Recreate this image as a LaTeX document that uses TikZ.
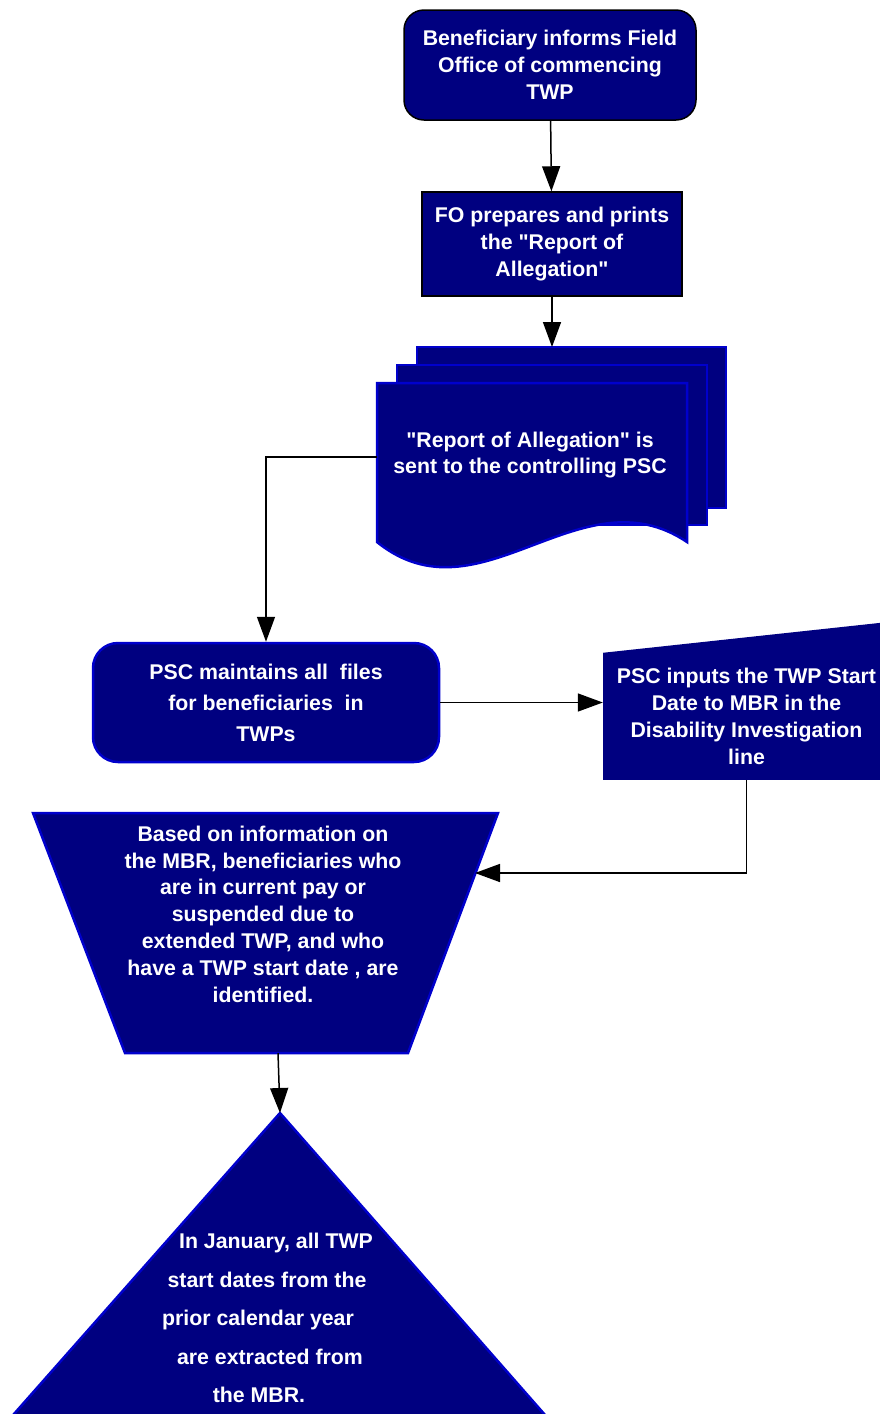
\documentclass[tikz,border=0pt]{standalone}
\usepackage{fontspec}
\setmainfont{Liberation Sans}[Ligatures=TeXOff]
\usetikzlibrary{arrows.meta,positioning}
\definecolor{navyfill}{RGB}{0,0,128}
\definecolor{edgeblue}{RGB}{0,0,204}

\begin{document}
\begin{tikzpicture}[x=1pt,y=-1pt,>={Triangle[length=25pt,width=18pt]},
    box/.style={fill=navyfill,text=white,align=center,inner sep=0pt,
                font=\fontsize{21.3}{26.8}\selectfont\bfseries},
    blackline/.style={draw=black,line width=1.5pt},
    blueline/.style={draw=edgeblue,line width=2.5pt},
    shapefill/.style={fill=navyfill,draw=edgeblue,line width=2.5pt},
    link/.style={line width=1.5pt}]
           \useasboundingbox (0,0) rectangle (879,1414);
           % process boxes
           \node[box,blackline,rounded corners=20pt,minimum width=292pt,minimum height=110pt] (inform) at (550,65)
                {Beneficiary informs Field\\Office of commencing\\TWP};
           \node[box,blackline,minimum width=260pt,minimum height=104pt] (prepare) at (552,244)
                {FO prepares and prints\\the "Report of\\Allegation"};
           % stacked documents
           \filldraw[shapefill] (417,347) rectangle (726,508);
           \filldraw[shapefill] (397,365) rectangle (707,525);
           \filldraw[shapefill] (377,383) -- (687,383) -- (687,542)
                .. controls (580,470) and (480,625) .. (377,542) -- cycle;
           \node[box,fill=none] (report) at (530,455) {"Report of Allegation" is\\sent to the controlling PSC};
           \coordinate (docw) at (377,457);
           \node[box,blueline,rounded corners=25pt,minimum width=346pt,minimum height=119pt,
                 font=\fontsize{21.3}{31}\selectfont\bfseries] (maintain) at (266,702.5)
                {PSC maintains all \ files\\for beneficiaries \ in\\TWPs};
           % manual input
           \node[box,minimum width=287pt,minimum height=127pt] (inputs) at (746.5,716.5)
                {PSC inputs the TWP Start\\Date to MBR in the\\Disability Investigation\\line};
           \fill[navyfill] (inputs.north west) -- (890,621.8) -- (inputs.north east) -- cycle;
           % trapezoid
           \filldraw[shapefill] (33,813) -- (498,813) -- (408,1053) -- (125,1053) -- cycle;
           \node[box,fill=none] (identify) at (263,914)
                {Based on information on\\the MBR, beneficiaries who\\are in current pay or\\suspended due to\\extended TWP, and who\\have a TWP start date , are\\identified.};
           \coordinate (trapr) at (475,873);
           \coordinate (trapb) at (278,1053);
           % triangle
           \filldraw[shapefill] (280,1113) -- (567,1440) -- (-9,1440) -- cycle;
           \coordinate (apex) at (280,1113);
           \node[box,fill=none,font=\fontsize{21.3}{38.5}\selectfont\bfseries] (extract) at (267,1318)
                {\hspace*{18pt}In January, all TWP\\start dates from the\\prior calendar year\kern18pt\\
                 \hspace*{6pt}are extracted from\\the MBR.\hspace*{16pt}};
           % connectors
           \path[->,link]
           (inform) edge (prepare)
           (prepare.south) edge (prepare.south |- 0,347)
           (maintain.east) edge (maintain.east -| inputs.west)
           (trapb) edge (apex);
           \draw[->,link] (docw) -| (maintain);
           \draw[->,link] (inputs.south) |- (trapr);
        \end{tikzpicture}
\end{document}
